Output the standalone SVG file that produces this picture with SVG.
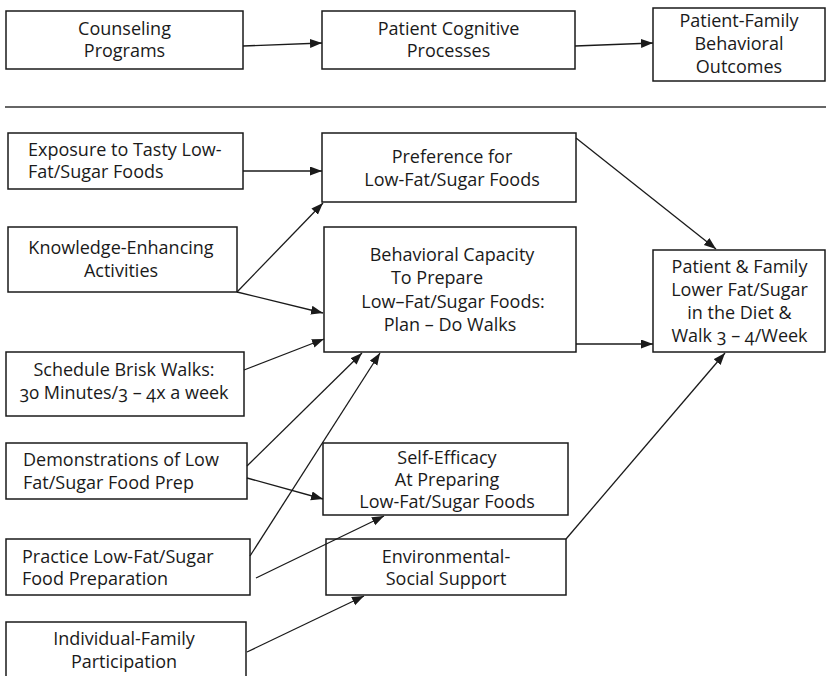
<svg xmlns="http://www.w3.org/2000/svg" width="826" height="676" viewBox="0 0 826 676">
<defs>
<marker id="ah" markerUnits="userSpaceOnUse" markerWidth="13" markerHeight="10" refX="12" refY="4.5" orient="auto">
<path d="M0,0 L12,4.5 L0,9 z" fill="#1a1a1a"/>
</marker>
<style>
rect{fill:#fff;stroke:#1a1a1a;stroke-width:1.5}
text{font-family:"Open Sans","Noto Sans","Liberation Sans",sans-serif;font-size:18px;fill:#1a1a1a;font-variant-numeric:oldstyle-nums}
.c{text-anchor:middle}
#connectors line{stroke:#1a1a1a;stroke-width:1.3;marker-end:url(#ah)}
</style>
</defs>
<rect width="826" height="676" style="fill:#fff;stroke:none"/>
<line x1="5" y1="107" x2="826" y2="107" stroke="#333" stroke-width="1.5"/>
<g id="counseling"><rect x="6" y="11" width="237" height="58"/><text class="c" x="124.5" y="35">Counseling</text><text class="c" x="124.5" y="57">Programs</text></g>
<g id="cognitive"><rect x="322" y="11" width="253" height="58"/><text class="c" x="448.5" y="35">Patient Cognitive</text><text class="c" x="448.5" y="57">Processes</text></g>
<g id="outcomes"><rect x="653" y="8" width="172" height="73"/><text class="c" x="739" y="27">Patient-Family</text><text class="c" x="739" y="50">Behavioral</text><text class="c" x="739" y="73">Outcomes</text></g>
<g id="exposure"><rect x="8" y="133" width="235" height="56"/><text x="28" y="156">Exposure to Tasty Low-</text><text x="28" y="178">Fat/Sugar Foods</text></g>
<g id="knowledge"><rect x="8" y="227" width="229" height="65"/><text class="c" x="121" y="254">Knowledge-Enhancing</text><text class="c" x="121" y="277">Activities</text></g>
<g id="schedule"><rect x="6" y="352" width="238" height="64"/><text class="c" x="124" y="376">Schedule Brisk Walks:</text><text class="c" x="124" y="399">30 Minutes/3 – 4x a week</text></g>
<g id="demonstrations"><rect x="6" y="443" width="241" height="56"/><text x="23" y="466">Demonstrations of Low</text><text x="23" y="489">Fat/Sugar Food Prep</text></g>
<g id="practice"><rect x="6" y="539" width="244" height="56"/><text x="22" y="563">Practice Low-Fat/Sugar</text><text x="22" y="585">Food Preparation</text></g>
<g id="individual"><rect x="6" y="622" width="240" height="60"/><text class="c" x="124" y="645">Individual-Family</text><text class="c" x="124" y="668">Participation</text></g>
<g id="preference"><rect x="322" y="133" width="254" height="69"/><text class="c" x="452" y="163">Preference for</text><text class="c" x="452" y="186">Low-Fat/Sugar Foods</text></g>
<g id="capacity"><rect x="324" y="227" width="252" height="125"/><text class="c" x="452" y="261">Behavioral Capacity</text><text class="c" x="437" y="284">To Prepare</text><text class="c" x="453" y="308">Low–Fat/Sugar Foods:</text><text class="c" x="450" y="331">Plan – Do Walks</text></g>
<g id="selfefficacy"><rect x="323" y="443" width="245" height="72"/><text class="c" x="447" y="464">Self-Efficacy</text><text class="c" x="447" y="486">At Preparing</text><text class="c" x="447" y="508">Low-Fat/Sugar Foods</text></g>
<g id="support"><rect x="326" y="539" width="240" height="56"/><text class="c" x="446" y="563">Environmental-</text><text class="c" x="446" y="585">Social Support</text></g>
<g id="result"><rect x="653" y="250" width="172" height="102"/><text class="c" x="739.5" y="273">Patient &amp; Family</text><text class="c" x="739.5" y="296">Lower Fat/Sugar</text><text class="c" x="739.5" y="319">in the Diet &amp;</text><text class="c" x="739.5" y="342">Walk 3 – 4/Week</text></g>
<g id="connectors">
<line x1="243" y1="46" x2="322" y2="43"/>
<line x1="575" y1="46" x2="653" y2="43"/>
<line x1="243" y1="171" x2="322" y2="171"/>
<line x1="237" y1="292" x2="323" y2="203"/>
<line x1="237" y1="292" x2="323" y2="313"/>
<line x1="244" y1="370" x2="324" y2="339"/>
<line x1="247" y1="466" x2="362" y2="353"/>
<line x1="247" y1="478" x2="323" y2="499"/>
<line x1="250" y1="556" x2="380" y2="353"/>
<line x1="256" y1="578" x2="384" y2="516"/>
<line x1="247" y1="652" x2="364" y2="596"/>
<line x1="576" y1="138" x2="716" y2="249"/>
<line x1="576" y1="344" x2="653" y2="344"/>
<line x1="566" y1="539" x2="725" y2="353"/>
</g>
</svg>
